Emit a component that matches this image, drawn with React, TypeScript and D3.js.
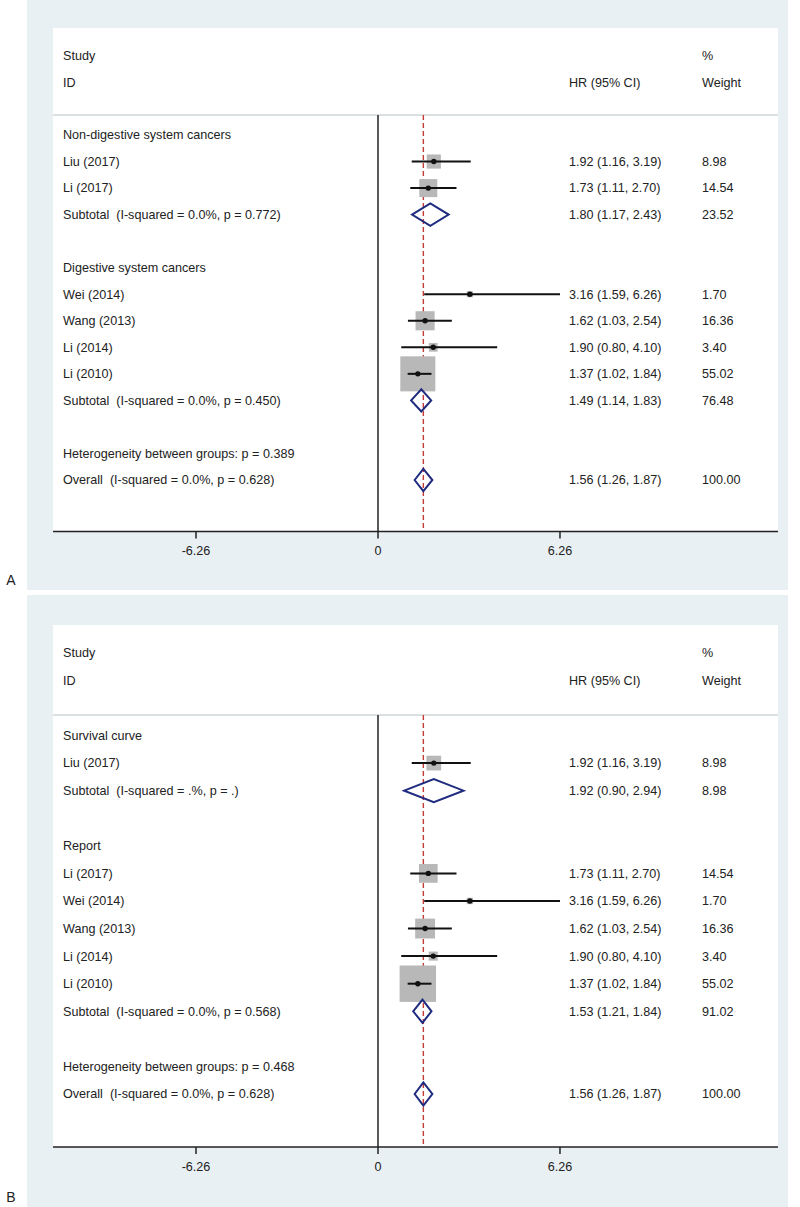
import React from 'react';
import * as d3 from 'd3';

// ---- panel A data (subgroup by cancer type)
const idsA = [
  'Non-digestive system cancers',
  'Liu (2017)',
  'Li (2017)',
  'Subtotal  (I-squared = 0.0%, p = 0.772)',
  '',
  'Digestive system cancers',
  'Wei (2014)',
  'Wang (2013)',
  'Li (2014)',
  'Li (2010)',
  'Subtotal  (I-squared = 0.0%, p = 0.450)',
  '',
  'Heterogeneity between groups: p = 0.389',
  'Overall  (I-squared = 0.0%, p = 0.628)',
];
const kindA = ['g', 's', 's', 'd', '-', 'g', 's', 's', 's', 's', 'd', '-', 'h', 'd'];
const hrA = [null, 1.92, 1.73, 1.8, null, null, 3.16, 1.62, 1.9, 1.37, 1.49, null, null, 1.56];
const loA = [null, 1.16, 1.11, 1.17, null, null, 1.59, 1.03, 0.8, 1.02, 1.14, null, null, 1.26];
const hiA = [null, 3.19, 2.7, 2.43, null, null, 6.26, 2.54, 4.1, 1.84, 1.83, null, null, 1.87];
const wA = [null, 8.98, 14.54, 23.52, null, null, 1.7, 16.36, 3.4, 55.02, 76.48, null, null, 100.0];

// ---- panel B data (subgroup by HR source)
const idsB = [
  'Survival curve',
  'Liu (2017)',
  'Subtotal  (I-squared = .%, p = .)',
  '',
  'Report',
  'Li (2017)',
  'Wei (2014)',
  'Wang (2013)',
  'Li (2014)',
  'Li (2010)',
  'Subtotal  (I-squared = 0.0%, p = 0.568)',
  '',
  'Heterogeneity between groups: p = 0.468',
  'Overall  (I-squared = 0.0%, p = 0.628)',
];
const kindB = ['g', 's', 'd', '-', 'g', 's', 's', 's', 's', 's', 'd', '-', 'h', 'd'];
const hrB = [null, 1.92, 1.92, null, null, 1.73, 3.16, 1.62, 1.9, 1.37, 1.53, null, null, 1.56];
const loB = [null, 1.16, 0.9, null, null, 1.11, 1.59, 1.03, 0.8, 1.02, 1.21, null, null, 1.26];
const hiB = [null, 3.19, 2.94, null, null, 2.7, 6.26, 2.54, 4.1, 1.84, 1.84, null, null, 1.87];
const wB = [null, 8.98, 8.98, null, null, 14.54, 1.7, 16.36, 3.4, 55.02, 91.02, null, null, 100.0];

const tickVals = [-6.26, 0, 6.26];
const overallHR = 1.56;

const FONT = '"Liberation Sans", Arial, Helvetica, sans-serif';
const BG = '#e9f0f3';
const TXT = '#222';
const NAVY = '#1f2b7e';
const BOX = '#b8b8b8';
const RED = '#c43a36';

type Layout = {
  bgTop: number; bgBottom: number; plotTop: number;
  studyY: number; idY: number; sepY: number;
  row0: number; row13: number; axisY: number; tickY: number; letterY: number;
  letter: string;
};

const layoutA: Layout = {
  bgTop: 0, bgBottom: 590, plotTop: 28, studyY: 56, idY: 83, sepY: 115,
  row0: 135, row13: 480, axisY: 531.5, tickY: 551, letterY: 580, letter: 'A',
};
const layoutB: Layout = {
  bgTop: 595, bgBottom: 1207, plotTop: 625, studyY: 653, idY: 681, sepY: 715,
  row0: 735.5, row13: 1094, axisY: 1147, tickY: 1167, letterY: 1197, letter: 'B',
};

const x = d3.scaleLinear().domain([-11.18, 13.76]).range([53, 778]);
const fmt = (v: number) => v.toFixed(2);

function Panel({ L, ids, kind, hr, lo, hi, w }: any) {
  const y = d3.scaleLinear().domain([0, ids.length - 1]).range([L.row0, L.row13]);
  const step = y(1) - y(0);
  const studyW = w.filter((v: any, i: number) => kind[i] === 's');
  const box = d3.scaleSqrt().domain([0, d3.max(studyW) as number]).range([0, step * 1.32]);
  const dh = step * 0.42;
  const textProps = { fontFamily: FONT, fontSize: 12.6, fill: TXT, style: { whiteSpace: 'pre' as const } };

  return (
    <g>
      <rect x={27} y={L.bgTop} width={761} height={L.bgBottom - L.bgTop} fill={BG} />
      <rect x={53} y={L.plotTop} width={725} height={L.axisY - L.plotTop} fill="#fff" />
      <line x1={53} x2={778} y1={L.sepY} y2={L.sepY} stroke="#cfd6da" strokeWidth={1.5} />

      <text x={63} y={L.studyY} dy="0.35em" {...textProps}>Study</text>
      <text x={63} y={L.idY} dy="0.35em" {...textProps}>ID</text>
      <text x={569} y={L.idY} dy="0.35em" {...textProps}>HR (95% CI)</text>
      <text x={702} y={L.studyY} dy="0.35em" {...textProps}>%</text>
      <text x={702} y={L.idY} dy="0.35em" {...textProps}>Weight</text>

      <line x1={x(0)} x2={x(0)} y1={L.sepY} y2={L.axisY} stroke="#222" strokeWidth={1.5} />
      <line x1={x(overallHR)} x2={x(overallHR)} y1={L.sepY} y2={L.axisY}
        stroke={RED} strokeWidth={1.4} strokeDasharray="5,3" />

      {ids.map((id: string, i: number) => {
        const cy = y(i);
        const k = kind[i];
        return (
          <g key={i}>
            {id && <text x={63} y={cy} dy="0.35em" {...textProps}>{id}</text>}
            {k === 's' && (
              <g>
                <rect x={x(hr[i]) - box(w[i]) / 2} y={cy - box(w[i]) / 2}
                  width={box(w[i])} height={box(w[i])} fill={BOX} />
                <line x1={x(lo[i])} x2={x(hi[i])} y1={cy} y2={cy} stroke="#111" strokeWidth={2} />
                <circle cx={x(hr[i])} cy={cy} r={2.7} fill="#111" />
              </g>
            )}
            {k === 'd' && (
              <path
                d={`M${x(lo[i])},${cy}L${x(hr[i])},${cy - dh}L${x(hi[i])},${cy}L${x(hr[i])},${cy + dh}Z`}
                fill="none" stroke={NAVY} strokeWidth={2} strokeLinejoin="miter" />
            )}
            {(k === 's' || k === 'd') && (
              <g>
                <text x={569} y={cy} dy="0.35em" {...textProps}>
                  {`${fmt(hr[i])} (${fmt(lo[i])}, ${fmt(hi[i])})`}
                </text>
                <text x={702} y={cy} dy="0.35em" {...textProps}>{fmt(w[i])}</text>
              </g>
            )}
          </g>
        );
      })}

      <line x1={53} x2={778} y1={L.axisY} y2={L.axisY} stroke="#222" strokeWidth={1.5} />
      {tickVals.map((t) => (
        <g key={t}>
          <line x1={x(t)} x2={x(t)} y1={L.axisY} y2={L.axisY + 7} stroke="#222" strokeWidth={1.5} />
          <text x={x(t)} y={L.tickY} dy="0.35em" textAnchor="middle" {...textProps}>
            {t === 0 ? '0' : fmt(t)}
          </text>
        </g>
      ))}
      <text x={11} y={L.letterY} dy="0.35em" textAnchor="middle" fontFamily={FONT} fontSize={14} fill={TXT}>
        {L.letter}
      </text>
    </g>
  );
}

export default function App() {
  return (
    <svg width={800} height={1207} style={{ position: 'absolute', left: 0, top: 0, display: 'block' }}>
      <rect width={800} height={1207} fill="#fff" />
      <Panel L={layoutA} ids={idsA} kind={kindA} hr={hrA} lo={loA} hi={hiA} w={wA} />
      <Panel L={layoutB} ids={idsB} kind={kindB} hr={hrB} lo={loB} hi={hiB} w={wB} />
    </svg>
  );
}
